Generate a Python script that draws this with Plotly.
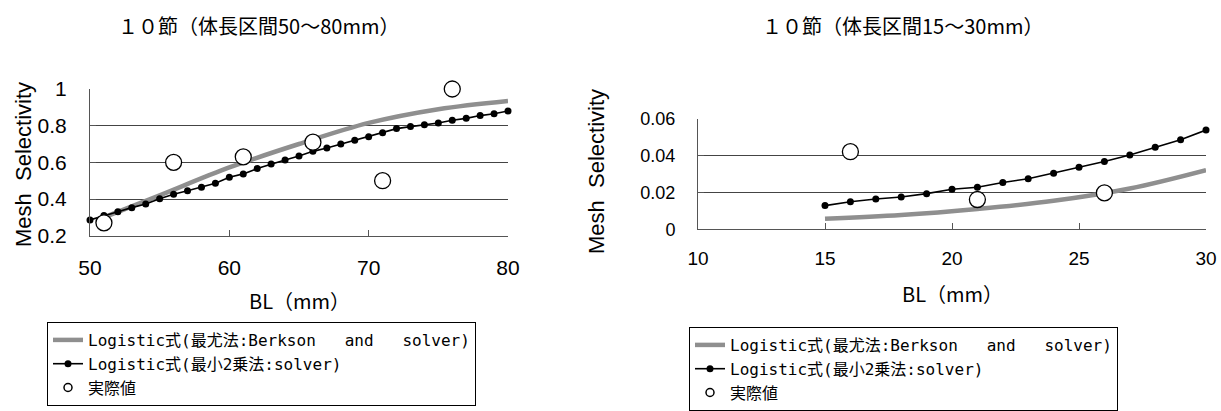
import plotly.graph_objects as go

# ---------------- data ----------------
# Left panel: 10節 (体長区間50～80mm)
bl_left = list(range(50, 81))
ls_left = [0.286, 0.31, 0.331, 0.353, 0.373, 0.402, 0.426, 0.445, 0.464, 0.486,
           0.519, 0.537, 0.566, 0.591, 0.613, 0.635, 0.66, 0.678, 0.70, 0.72,
           0.74, 0.762, 0.784, 0.795, 0.805, 0.815, 0.83, 0.84, 0.855, 0.865, 0.88]
bl_left_mle = [51, 55, 60, 65, 70, 75, 80]
mle_left = [0.30, 0.42, 0.572, 0.70, 0.815, 0.89, 0.935]
obs_left_x = [51, 56, 61, 66, 71, 76]
obs_left_y = [0.27, 0.60, 0.63, 0.71, 0.50, 1.00]

# Right panel: 10節 (体長区間15～30mm)
bl_right = list(range(15, 31))
ls_right = [0.0129, 0.015, 0.0165, 0.0176, 0.0194, 0.0218, 0.0229, 0.0255,
            0.0275, 0.0305, 0.0338, 0.0369, 0.0404, 0.0447, 0.0487, 0.054]
bl_right_mle = [15, 18, 21, 24, 27, 30]
mle_right = [0.0058, 0.0078, 0.0111, 0.0155, 0.0222, 0.0322]
obs_right_x = [16, 21, 26]
obs_right_y = [0.0422, 0.0162, 0.0198]

titles = ["１０節（体長区間50～80mm）", "１０節（体長区間15～30mm）"]
names = ["Logistic式(最尤法:Berkson\u00a0\u00a0\u00a0and\u00a0\u00a0\u00a0solver)",
         "Logistic式(最小2乗法:solver)", "実際値"]
ylabel = "Mesh\u00a0\u00a0Selectivity"
xlabel = "BL（mm）"

# ---------------- figure ----------------
W, H = 1221, 411
JP = "Noto Sans CJK JP"
NUM = "Liberation Sans"
LEGF = "DejaVu Sans Mono, Noto Sans CJK JP"
GRAY = "#8f8f8f"

def px(x):
    return x / W

def py(y):
    return 1 - y / H

fig = go.Figure()

panels = [
    dict(x=bl_left, ls=ls_left, mx=bl_left_mle, mle=mle_left, ox=obs_left_x, oy=obs_left_y,
         xa="x", ya="y", leg="legend"),
    dict(x=bl_right, ls=ls_right, mx=bl_right_mle, mle=mle_right, ox=obs_right_x, oy=obs_right_y,
         xa="x2", ya="y2", leg="legend2"),
]
for p in panels:
    fig.add_trace(go.Scatter(x=p["mx"], y=p["mle"], mode="lines", name=names[0],
                             line=dict(color=GRAY, width=4.5, shape="spline", smoothing=1.0),
                             xaxis=p["xa"], yaxis=p["ya"], legend=p["leg"], cliponaxis=False))
    fig.add_trace(go.Scatter(x=p["x"], y=p["ls"], mode="lines+markers", name=names[1],
                             line=dict(color="black", width=1.6),
                             marker=dict(color="black", size=7), xaxis=p["xa"], yaxis=p["ya"],
                             legend=p["leg"], cliponaxis=False))
    fig.add_trace(go.Scatter(x=p["ox"], y=p["oy"], mode="markers", name=names[2],
                             marker=dict(color="white", size=16, line=dict(color="black", width=1.3)),
                             xaxis=p["xa"], yaxis=p["ya"], showlegend=False, cliponaxis=False))
    # legend entry for the observed values (small symbol as in the original legend)
    fig.add_trace(go.Scatter(x=[None], y=[None], mode="markers", name=names[2],
                             marker=dict(color="white", size=8, line=dict(color="black", width=1.5)),
                             xaxis=p["xa"], yaxis=p["ya"], legend=p["leg"]))

axis_common = dict(showline=True, linecolor="#555", linewidth=1, ticks="inside", ticklen=6,
                   tickcolor="#555", zeroline=False, automargin=False, ticklabeloverflow="allow")

fig.update_layout(
    width=W, height=H, margin=dict(l=0, r=0, t=0, b=0, autoexpand=False),
    paper_bgcolor="white", plot_bgcolor="white",
    xaxis=dict(domain=[px(90), px(508)], range=[50, 80], tickvals=[50, 60, 70, 80],
               showgrid=False, anchor="y", ticklabelstandoff=13,
               tickfont=dict(family=NUM, size=21, color="black"), **axis_common),
    yaxis=dict(domain=[py(235.7), py(89)], range=[0.2, 1.0], tickvals=[0.2, 0.4, 0.6, 0.8, 1.0],
               ticktext=["0.2", "0.4", "0.6", "0.8", "1"],
               showgrid=True, gridcolor="#444", gridwidth=1, anchor="x", ticklabelstandoff=18,
               tickfont=dict(family=NUM, size=21, color="black"), **axis_common),
    xaxis2=dict(domain=[px(698), px(1206)], range=[10, 30], tickvals=[10, 15, 20, 25, 30],
                showgrid=False, anchor="y2", ticklabelstandoff=12,
                tickfont=dict(family=NUM, size=19, color="black"), **axis_common),
    yaxis2=dict(domain=[py(229.3), py(119)], range=[0, 0.06], tickvals=[0, 0.02, 0.04, 0.06],
                ticktext=["0", "0.02", "0.04", "0.06"],
                showgrid=True, gridcolor="#444", gridwidth=1, anchor="x2", ticklabelstandoff=18,
                tickfont=dict(family=NUM, size=18, color="black"), **axis_common),
    legend=dict(x=px(47), y=py(322), xanchor="left", yanchor="top", bgcolor="white",
                bordercolor="black", borderwidth=1, traceorder="normal",
                font=dict(family=LEGF, size=16, color="black"), tracegroupgap=0),
    legend2=dict(x=px(689), y=py(327), xanchor="left", yanchor="top", bgcolor="white",
                 bordercolor="black", borderwidth=1, traceorder="normal",
                 font=dict(family=LEGF, size=16, color="black"), tracegroupgap=0),
    showlegend=True,
)

ann = [
    dict(text=titles[0], x=px(258), y=py(25), size=20, fam=JP),
    dict(text=titles[1], x=px(902), y=py(25), size=20, fam=JP),
    dict(text=xlabel, x=px(299), y=py(300), size=20, fam=JP),
    dict(text=xlabel, x=px(952), y=py(293), size=20, fam=JP),
    dict(text=ylabel, x=px(23), y=py(165), size=22, fam=NUM, angle=-90),
    dict(text=ylabel, x=px(597), y=py(172), size=22, fam=NUM, angle=-90),
]
for a in ann:
    fig.add_annotation(text=a["text"], x=a["x"], y=a["y"], xref="paper", yref="paper",
                       xanchor="center", yanchor="middle", showarrow=False,
                       textangle=a.get("angle", 0),
                       font=dict(family=a["fam"], size=a["size"], color="black"))

fig.write_html("out.html", config={"displayModeBar": False},
               post_script="document.body.style.margin='0';document.body.style.overflow='hidden';")
